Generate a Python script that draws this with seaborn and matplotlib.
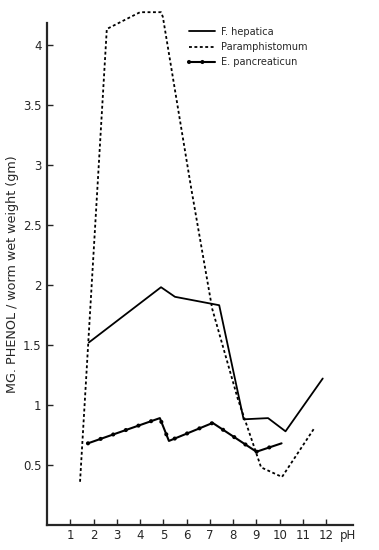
import numpy as np
import pandas as pd
import seaborn as sns
import matplotlib.pyplot as plt

sns.set_style("ticks")
plt.rcParams['font.family'] = ['DejaVu Sans']

# valores
ph_hep = [1.8, 4.9, 5.5, 7.4, 8.45, 9.5, 10.25, 11.85]
val_hep = [1.52, 1.98, 1.90, 1.83, 0.88, 0.89, 0.78, 1.22]

ph_par = [1.42, 2.57, 4.0, 4.9, 4.98, 6.2, 7.1, 8.2, 9.2, 10.1, 11.5]
val_par = [0.36, 4.13, 4.27, 4.27, 4.23, 2.8, 1.8, 1.05, 0.48, 0.40, 0.81]

ph_pan = [1.76, 4.85, 5.24, 7.12, 9.0, 10.08]
val_pan = [0.68, 0.89, 0.70, 0.85, 0.61, 0.68]

xticks = list(range(1, 13))
yticks = [0.5, 1, 1.5, 2, 2.5, 3, 3.5, 4]
ytick_labels = ["0.5", "1", "1.5", "2", "2.5", "3", "3.5", "4"]

fig = plt.figure(figsize=(3.79, 5.5), dpi=100)
ax = fig.add_axes([47 / 379, 25 / 550, 306 / 379, 502 / 550])

sns.lineplot(x=ph_hep, y=val_hep, sort=False, color="black", lw=1.3, ax=ax)
sns.lineplot(x=ph_par, y=val_par, sort=False, color="black", lw=1.3,
             linestyle=(0, (1.6, 1.4)), ax=ax)
sns.lineplot(x=ph_pan, y=val_pan, sort=False, color="black", lw=1.5, ax=ax)
sns.lineplot(x=ph_pan, y=val_pan, sort=False, color="black", lw=3.0,
             linestyle=(0, (0.01, 3.2)), dash_capstyle="round", ax=ax)
lines = ax.get_lines()
for ln in lines:
    ln.set_clip_on(False)

ax.set_xlim(0, 13.15)
ax.set_ylim(0, 4.18)
ax.set_xticks(xticks)
ax.set_xticklabels([str(t) for t in xticks])
ax.set_yticks(yticks)
ax.set_yticklabels(ytick_labels)
ax.tick_params(direction="in", length=4, width=1, labelsize=8.5, pad=3)
ax.tick_params(axis="y", pad=4)
for side in ["top", "right"]:
    ax.spines[side].set_visible(False)
for side in ["left", "bottom"]:
    ax.spines[side].set_linewidth(1.6)

ax.text(12.6, -0.03, "pH", ha="left", va="top", fontsize=8.5,
        transform=ax.transData)
ax.set_ylabel("MG. PHENOL / worm wet weight (gm)", fontsize=9.2, labelpad=3)

handles = [lines[0], lines[1], (lines[2], lines[3])]
labels = ["F. hepatica", "Paramphistomum", "E. pancreaticun"]
ax.legend(handles, labels, loc="upper left", bbox_to_anchor=(180 / 379, 1 - 18 / 550),
          bbox_transform=fig.transFigure, frameon=False, fontsize=7,
          handlelength=2.7, handletextpad=0.6, labelspacing=0.55)

fig.savefig("out.png", dpi=100)
